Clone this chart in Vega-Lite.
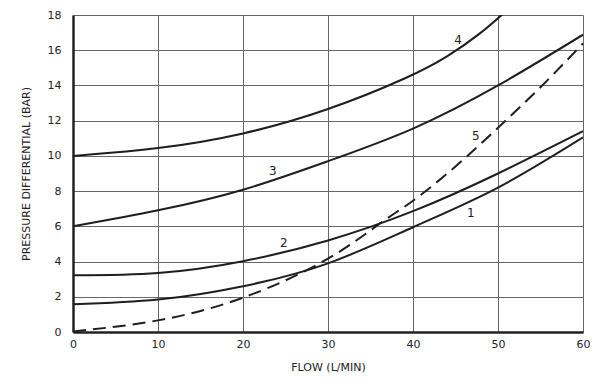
{
  "$schema": "https://vega.github.io/schema/vega-lite/v6.json",
  "width": 510,
  "height": 317,
  "autosize": "none",
  "padding": {"left": 73, "top": 15, "right": 23, "bottom": 49},
  "background": "white",
  "config": {
    "view": {"stroke": null},
    "axis": {"labelFont": "DejaVu Sans", "titleFont": "DejaVu Sans", "labelColor": "#222", "titleColor": "#222", "labelFontSize": 11, "titleFontSize": 11, "titleFontWeight": "normal", "gridColor": "#666", "gridOpacity": 1, "gridWidth": 1, "ticks": false, "domainColor": "#222", "domainWidth": 2.5}
  },
  "datasets": {
    "curves": [
      {"series": "1", "flow": 0, "dp": 1.57},
      {"series": "1", "flow": 10, "dp": 1.84},
      {"series": "1", "flow": 20, "dp": 2.6},
      {"series": "1", "flow": 30, "dp": 3.9},
      {"series": "1", "flow": 40, "dp": 5.95},
      {"series": "1", "flow": 50, "dp": 8.2},
      {"series": "1", "flow": 60, "dp": 11.05},
      {"series": "2", "flow": 0, "dp": 3.22},
      {"series": "2", "flow": 10, "dp": 3.35},
      {"series": "2", "flow": 20, "dp": 4.02},
      {"series": "2", "flow": 30, "dp": 5.2},
      {"series": "2", "flow": 40, "dp": 6.86},
      {"series": "2", "flow": 50, "dp": 9.0},
      {"series": "2", "flow": 60, "dp": 11.4},
      {"series": "3", "flow": 0, "dp": 6.0},
      {"series": "3", "flow": 10, "dp": 6.91},
      {"series": "3", "flow": 20, "dp": 8.08},
      {"series": "3", "flow": 30, "dp": 9.7},
      {"series": "3", "flow": 40, "dp": 11.55},
      {"series": "3", "flow": 50, "dp": 14.0},
      {"series": "3", "flow": 60, "dp": 16.88}
    ],
    "curve4": [
      {"series": "4", "flow": 0, "dp": 10.0},
      {"series": "4", "flow": 10, "dp": 10.37},
      {"series": "4", "flow": 20, "dp": 11.18},
      {"series": "4", "flow": 30, "dp": 12.56},
      {"series": "4", "flow": 40, "dp": 14.55},
      {"series": "4", "flow": 44, "dp": 15.6},
      {"series": "4", "flow": 48, "dp": 16.95},
      {"series": "4", "flow": 51, "dp": 18.25}
    ],
    "dashed": [
      {"series": "5", "flow": 0, "dp": 0.03},
      {"series": "5", "flow": 10, "dp": 0.66},
      {"series": "5", "flow": 20, "dp": 1.95},
      {"series": "5", "flow": 29.8, "dp": 4.11},
      {"series": "5", "flow": 36.1, "dp": 6.16},
      {"series": "5", "flow": 40, "dp": 7.45},
      {"series": "5", "flow": 45, "dp": 9.4},
      {"series": "5", "flow": 50, "dp": 11.6},
      {"series": "5", "flow": 55, "dp": 13.9},
      {"series": "5", "flow": 60, "dp": 16.39}
    ],
    "labels": [
      {"label": "1", "flow": 46.8, "dp": 6.73},
      {"label": "2", "flow": 24.8, "dp": 5.06},
      {"label": "3", "flow": 23.5, "dp": 9.13},
      {"label": "4", "flow": 45.3, "dp": 16.57},
      {"label": "5", "flow": 47.4, "dp": 11.14}
    ]
  },
  "encoding": {
    "x": {"field": "flow", "type": "quantitative", "scale": {"domain": [0, 60], "nice": false, "zero": false}, "axis": {"title": "FLOW (L/MIN)", "values": [0, 10, 20, 30, 40, 50, 60], "labelPadding": 6, "titlePadding": 12, "labelFlush": false}},
    "y": {"field": "dp", "type": "quantitative", "scale": {"domain": [0, 18], "nice": false}, "axis": {"title": "PRESSURE DIFFERENTIAL (BAR)", "values": [0, 2, 4, 6, 8, 10, 12, 14, 16, 18], "labelPadding": 12, "titlePadding": 16, "labelFlush": false}}
  },
  "layer": [
    {
      "data": {"name": "curves"},
      "mark": {"type": "line", "interpolate": "natural", "color": "#1e1e1e", "strokeWidth": 2, "clip": true},
      "encoding": {"detail": {"field": "series"}}
    },
    {
      "data": {"name": "curve4"},
      "mark": {"type": "line", "interpolate": "basis", "color": "#1e1e1e", "strokeWidth": 2, "clip": true},
      "encoding": {"detail": {"field": "series"}}
    },
    {
      "data": {"name": "dashed"},
      "mark": {"type": "line", "interpolate": "natural", "color": "#1e1e1e", "strokeWidth": 2, "strokeDash": [13, 7], "clip": true},
      "encoding": {"detail": {"field": "series"}}
    },
    {
      "data": {"name": "labels"},
      "mark": {"type": "text", "font": "DejaVu Sans", "fontSize": 12, "color": "#222"},
      "encoding": {"text": {"field": "label"}}
    }
  ]
}
